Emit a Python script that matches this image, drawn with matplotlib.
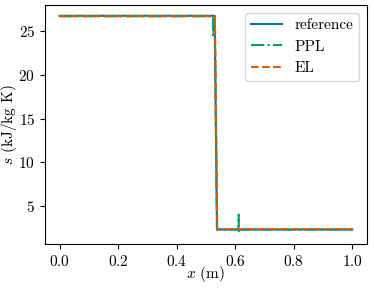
import numpy as np
import matplotlib
matplotlib.use("Agg")
import matplotlib.pyplot as plt

plt.rcParams['font.family'] = 'serif'
plt.rcParams['font.serif'] = ['cmr10']
plt.rcParams['mathtext.fontset'] = 'cm'
plt.rcParams['axes.formatter.use_mathtext'] = True
plt.rcParams['font.size'] = 11

# data
x_ref = [0.0, 0.530, 0.538, 1.0]
s_ref = [26.8, 26.8, 2.3, 2.3]

x_ppl = [0.0, 0.524, 0.526, 0.528, 0.530, 0.538, 0.611, 0.612, 0.613, 0.614, 1.0]
s_ppl = [26.75, 26.75, 24.3, 26.4, 26.6, 2.3, 2.3, 4.0, 1.9, 2.3, 2.3]

x_el = [0.0, 0.529, 0.531, 0.539, 1.0]
s_el = [26.75, 26.75, 26.5, 2.35, 2.35]

fig = plt.figure(figsize=(3.74, 2.9), dpi=100)
ax = fig.add_axes([0.12, 0.159, 0.861, 0.824])

ax.plot(x_ref, s_ref, color='#0173b2', lw=1.5, label='reference')
ax.plot(x_ppl, s_ppl, color='#029e73', lw=1.5, ls='-.', label='PPL')
ax.plot(x_el, s_el, color='#d55e00', lw=1.5, ls='--', label='EL')

ax.set_xlabel(r'$x$ (m)')
ax.set_ylabel(r'$s$ (kJ/kg K)')
ax.yaxis.set_label_coords(-0.08, 0.5)
ax.xaxis.set_label_coords(0.5, -0.085)
ax.set_xticks([0.0, 0.2, 0.4, 0.6, 0.8, 1.0])
ax.set_yticks([5, 10, 15, 20, 25])
ax.legend(loc='upper right')

fig.savefig('out.png', dpi=100)
